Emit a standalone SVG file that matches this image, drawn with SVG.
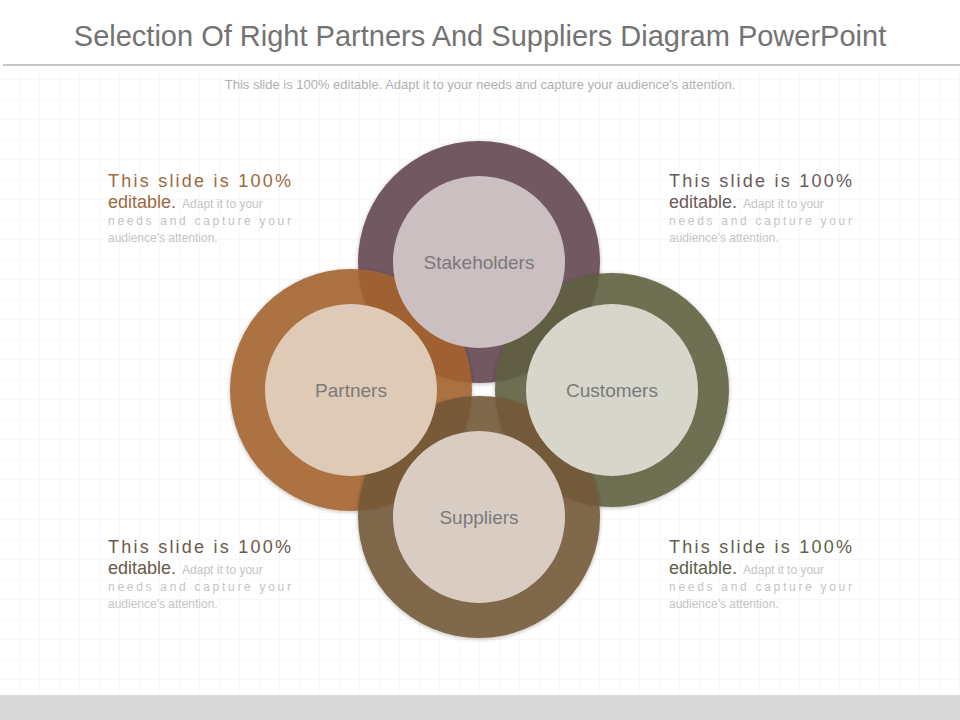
<svg xmlns="http://www.w3.org/2000/svg" width="960" height="720" viewBox="0 0 960 720">
<defs>
<pattern id="grid" width="20" height="20" patternUnits="userSpaceOnUse"><path d="M20 0V20H0" fill="none" stroke="#f0f0f0" stroke-width="1"/></pattern>
<filter id="sh" x="-10%" y="-10%" width="120%" height="120%"><feGaussianBlur in="SourceAlpha" stdDeviation="2"/><feOffset dy="1"/><feComponentTransfer><feFuncA type="linear" slope="0.3"/></feComponentTransfer><feMerge><feMergeNode/><feMergeNode in="SourceGraphic"/></feMerge></filter>
<style>
text{font-family:"Liberation Sans",Arial,sans-serif}
.h{font-size:18px}
.s{font-size:12px;fill:#c4c4c4}
.lbl{font-size:19px;fill:#7a7a7a;text-anchor:middle}
.ring{opacity:0.9}
</style>
</defs>
<rect width="960" height="720" fill="#ffffff"/>
<rect x="0" y="70" width="960" height="625" fill="url(#grid)"/>
<text x="480" y="46" text-anchor="middle" font-size="29" fill="#737373">Selection Of Right Partners And Suppliers Diagram PowerPoint</text>
<rect x="3" y="64" width="957" height="2" fill="#c8c8c8"/>
<text x="480" y="89" text-anchor="middle" font-size="13" fill="#b0b0b0">This slide is 100% editable. Adapt it to your needs and capture your audience's attention.</text>
<rect x="0" y="695" width="960" height="25" fill="#d9d9d9"/>

<g id="rings">
<circle id="ring-stakeholders" class="ring" cx="479" cy="262" r="121" fill="#644650" filter="url(#sh)"/>
<circle id="ring-partners" class="ring" cx="351" cy="390" r="121" fill="#a4642f" filter="url(#sh)"/>
<circle id="ring-customers" class="ring" cx="612" cy="390" r="117" fill="#60603f" filter="url(#sh)"/>
<circle id="ring-suppliers" class="ring" cx="479" cy="517" r="121" fill="#735839" filter="url(#sh)"/>
</g>
<g id="stakeholders"><circle cx="479" cy="262" r="86" fill="#cbbfc1"/><text class="lbl" x="479" y="269">Stakeholders</text></g>
<g id="partners"><circle cx="351" cy="390" r="86" fill="#dfc9b7"/><text class="lbl" x="351" y="397">Partners</text></g>
<g id="customers"><circle cx="612" cy="390" r="86" fill="#d6d6ca"/><text class="lbl" x="612" y="397">Customers</text></g>
<g id="suppliers"><circle cx="479" cy="517" r="86" fill="#d9cdc3"/><text class="lbl" x="479" y="524">Suppliers</text></g>

<g id="text-tl">
<text class="h" fill="#9c6a3e" x="108" y="187" textLength="183" lengthAdjust="spacing">This slide is 100%</text>
<text x="108" y="208"><tspan class="h" fill="#9c6a3e">editable.</tspan><tspan class="s" dx="6">Adapt it to your</tspan></text>
<text class="s" x="108" y="225" textLength="183" lengthAdjust="spacing">needs and capture your</text>
<text class="s" x="108" y="242">audience's attention.</text>
</g>
<g id="text-tr">
<text class="h" fill="#6a5a5a" x="669" y="187" textLength="183" lengthAdjust="spacing">This slide is 100%</text>
<text x="669" y="208"><tspan class="h" fill="#6a5a5a">editable.</tspan><tspan class="s" dx="6">Adapt it to your</tspan></text>
<text class="s" x="669" y="225" textLength="183" lengthAdjust="spacing">needs and capture your</text>
<text class="s" x="669" y="242">audience's attention.</text>
</g>
<g id="text-bl">
<text class="h" fill="#6a5a4a" x="108" y="553" textLength="183" lengthAdjust="spacing">This slide is 100%</text>
<text x="108" y="574"><tspan class="h" fill="#6a5a4a">editable.</tspan><tspan class="s" dx="6">Adapt it to your</tspan></text>
<text class="s" x="108" y="591" textLength="183" lengthAdjust="spacing">needs and capture your</text>
<text class="s" x="108" y="608">audience's attention.</text>
</g>
<g id="text-br">
<text class="h" fill="#5f5f4a" x="669" y="553" textLength="183" lengthAdjust="spacing">This slide is 100%</text>
<text x="669" y="574"><tspan class="h" fill="#5f5f4a">editable.</tspan><tspan class="s" dx="6">Adapt it to your</tspan></text>
<text class="s" x="669" y="591" textLength="183" lengthAdjust="spacing">needs and capture your</text>
<text class="s" x="669" y="608">audience's attention.</text>
</g>
<g id="connectors"/>
</svg>
